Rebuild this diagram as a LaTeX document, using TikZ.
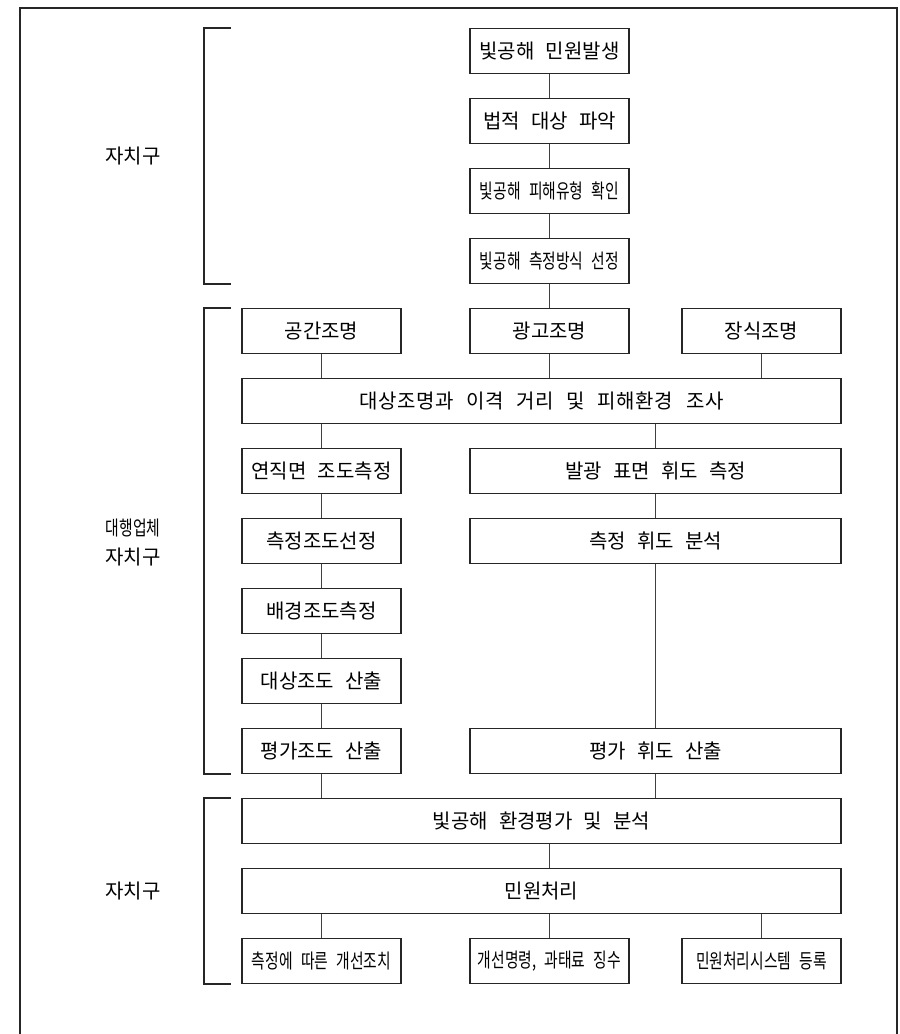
\documentclass[tikz,border=0pt]{standalone}
\usepackage{fontspec}
\setmainfont{Noto Sans CJK KR}[WordSpace=2.5]
\newfontfamily\narrowkr{Noto Sans CJK KR}[FakeStretch=0.74,WordSpace=2.5]
\usetikzlibrary{positioning}

\begin{document}
\begin{tikzpicture}[x=1pt,y=-1pt,
  box/.style={draw=black!85,line width=1.2pt,minimum width=159pt,minimum height=45pt,inner sep=0pt,font=\fontsize{20}{22}\selectfont},
  wide/.style={box,minimum width=599pt},
  half/.style={box,minimum width=371pt},
  link/.style={draw=black!75,line width=0.9pt},
  bracket/.style={draw=black!85,line width=1.3pt},
  side/.style={font=\fontsize{20}{22}\selectfont}]
\useasboundingbox (0,0) rectangle (900,1034);
\draw [line width=1.5pt,black!85] (20,1034) -- (20,8) -- (897,8) -- (897,1034);
% first stage
\node[box] (b1) at (549.5,51) {빛공해 민원발생};
\node[box] (b2) at (549.5,121) {법적 대상 파악};
\node[box] (b3) at (549.5,191) {\narrowkr 빛공해 피해유형 확인};
\node[box] (b4) at (549.5,261) {\narrowkr 빛공해 측정방식 선정};
% lighting types
\node[box] (l1) at (321.5,331) {공간조명};
\node[box] (l2) at (549.5,331) {광고조명};
\node[box] (l3) at (761.5,331) {장식조명};
\node[wide] (survey) at (541.5,401) {\addfontfeature{LetterSpace=3}대상조명과 이격 거리 및 피해환경 조사};
% illuminance branch
\node[box] (il1) at (321.5,471) {연직면 조도측정};
\node[box] (il2) at (321.5,541) {측정조도선정};
\node[box] (il3) at (321.5,611) {배경조도측정};
\node[box] (il4) at (321.5,681) {대상조도 산출};
\node[box] (il5) at (321.5,751) {평가조도 산출};
% luminance branch
\node[half] (lu1) at (655.5,471) {발광 표면 휘도 측정};
\node[half] (lu2) at (655.5,541) {측정 휘도 분석};
\node[half] (lu3) at (655.5,751) {평가 휘도 산출};
% last stage
\node[wide] (eval) at (541.5,821) {빛공해 환경평가 및 분석};
\node[wide] (civil) at (541.5,891) {민원처리};
\node[box] (a1) at (321.5,961) {\narrowkr 측정에 따른 개선조치};
\node[box] (a2) at (549.5,961) {\narrowkr 개선명령, 과태료 징수};
\node[box] (a3) at (761.5,961) {\narrowkr 민원처리시스템 등록};
% side labels
\node[side] (who1) at (133,156) {자치구};
\node[side] (who2) at (133,528) {\narrowkr 대행업체};
\node[side] (who3) at (133,557) {자치구};
\node[side] (who4) at (133,891) {자치구};
% connectors
\foreach \a/\b in {b1/b2,b2/b3,b3/b4,b4/l2,il1/il2,il2/il3,il3/il4,il4/il5,lu1/lu2,lu2/lu3}
	\draw[link] (\a.south) -- (\b.north);
\foreach \n in {l1,l2,l3}
	\draw[link] (\n.south) -- (\n.south |- survey.north);
\foreach \n in {il1,lu1}
	\draw[link] (\n.north) -- (\n.north |- survey.south);
\foreach \n in {il5,lu3}
	\draw[link] (\n.south) -- (\n.south |- eval.north);
\draw[link] (b1.south |- eval.south) -- (b1.south |- civil.north);
\foreach \n in {a1,a2,a3}
	\draw[link] (\n.north) -- (\n.north |- civil.south);
% brackets
\coordinate (kx) at (204,0);
\coordinate (ktip) at (231,0);
\draw[bracket] (ktip |- b1.north) -- (kx |- b1.north) -- (kx |- b4.south) -- (ktip |- b4.south);
\draw[bracket] (ktip |- l1.north) -- (kx |- l1.north) -- (kx |- il5.south) -- (ktip |- il5.south);
\draw[bracket] (ktip |- eval.north) -- (kx |- eval.north) -- (kx |- a1.south) -- (ktip |- a1.south);
\end{tikzpicture}
\end{document}
